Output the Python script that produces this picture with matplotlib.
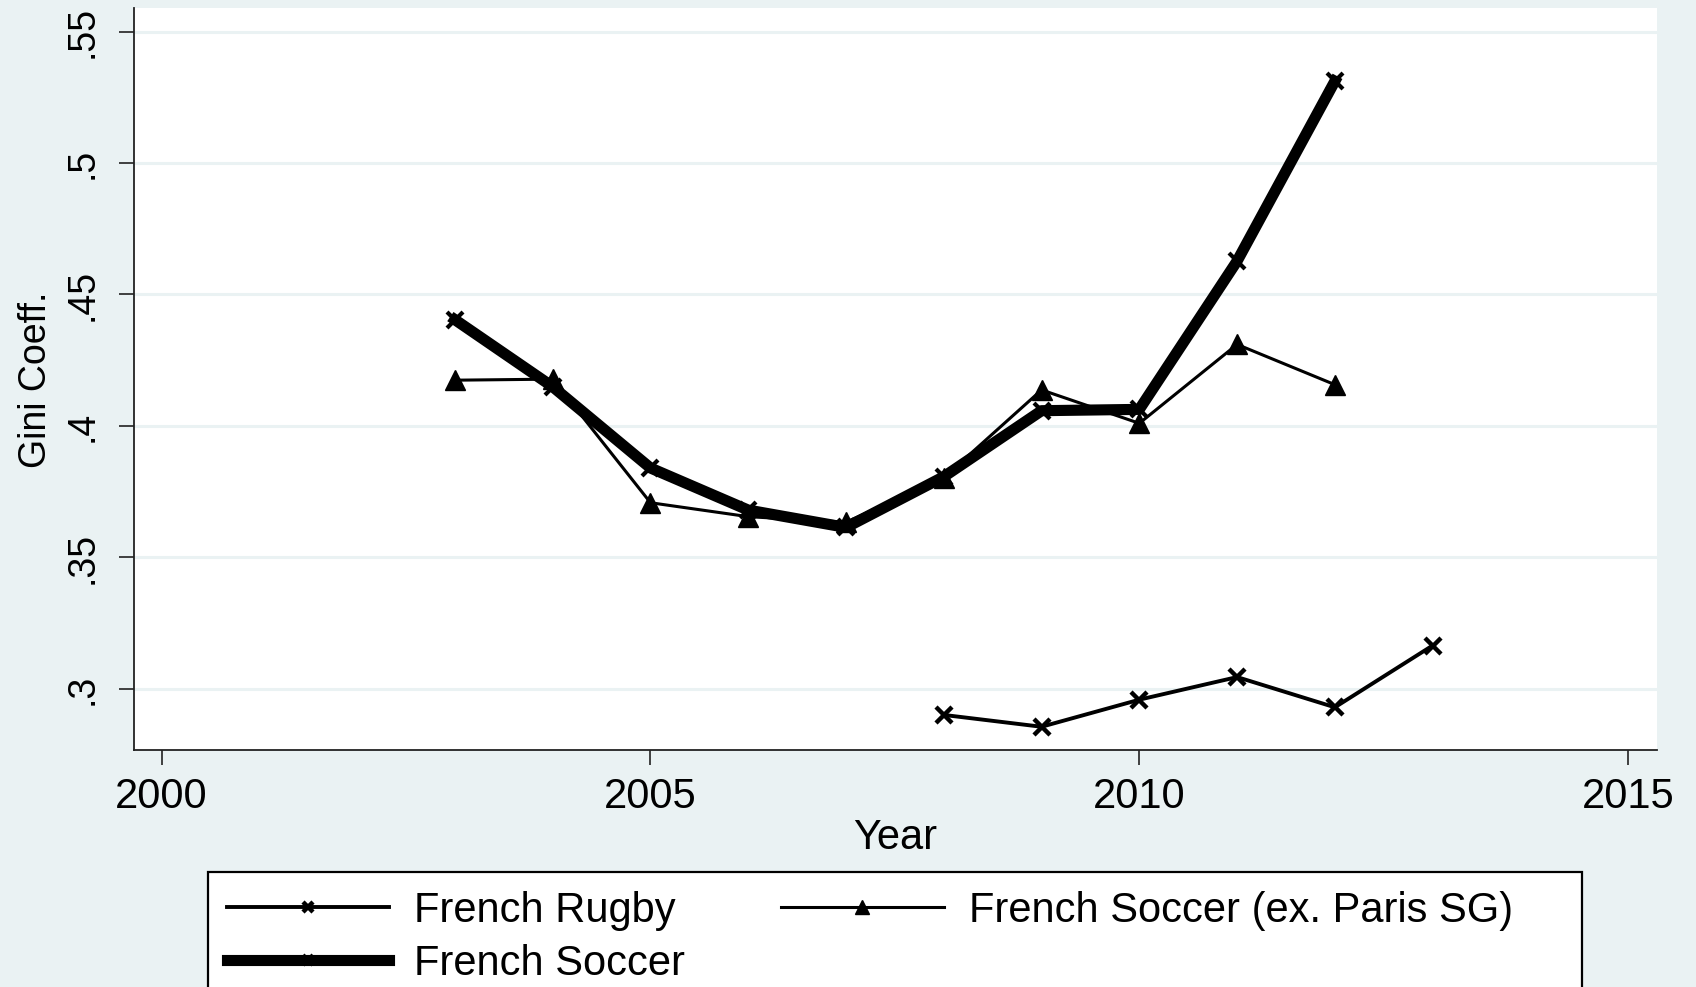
import matplotlib
matplotlib.use("Agg")
import matplotlib.pyplot as plt
from matplotlib.patches import Rectangle

# данные
years_soccer = [2003, 2004, 2005, 2006, 2007, 2008, 2009, 2010, 2011, 2012]
gini_soccer = [0.4404, 0.4149, 0.3840, 0.3680, 0.3614, 0.3807, 0.4058, 0.4063, 0.4627, 0.5311]
gini_soccer_ex_psg = [0.4174, 0.4178, 0.3708, 0.3655, 0.3634, 0.3803, 0.4137, 0.4010, 0.4310, 0.4157]

years_rugby = [2008, 2009, 2010, 2011, 2012, 2013]
gini_rugby = [0.2901, 0.2856, 0.2959, 0.3045, 0.2930, 0.3165]

x_ticks = [2000, 2005, 2010, 2015]
y_ticks = [0.30, 0.35, 0.40, 0.45, 0.50, 0.55]
y_tick_labels = [".3", ".35", ".4", ".45", ".5", ".55"]

BG = "#EAF2F3"
W, H = 1696, 987
plt.rcParams["font.family"] = ["Liberation Sans", "DejaVu Sans"]

fig = plt.figure(figsize=(W / 100, H / 100 + 0.004), dpi=100, facecolor=BG)
ax = fig.add_axes([134 / W, 237 / H, 1522.5 / W, 741.5 / H])
ax.set_facecolor("white")

# линии
l_rugby, = ax.plot(years_rugby, gini_rugby, color="black", lw=2.8,
                   marker="x", ms=11, mew=3.2, zorder=3)
l_soccer, = ax.plot(years_soccer, gini_soccer, color="black", lw=8,
                    marker="x", ms=11, mew=3, zorder=3)
l_ex, = ax.plot(years_soccer, gini_soccer_ex_psg, color="black", lw=2.2,
                marker="^", ms=15, zorder=4)

ax.set_xlim(1999.717, 2015.29)
ax.set_ylim(0.2768, 0.5589)

ax.set_xticks(x_ticks)
ax.set_yticks(y_ticks)
ax.set_yticklabels(y_tick_labels)
ax.yaxis.grid(True, color=BG, lw=2.2)
ax.set_axisbelow(True)

for s in ["top", "right"]:
    ax.spines[s].set_visible(False)
for s in ["left", "bottom"]:
    ax.spines[s].set_linewidth(1.3)
    ax.spines[s].set_color("#222222")

ax.tick_params(axis="both", direction="out", length=11, width=1.2,
               color="#222222")
ax.tick_params(axis="x", pad=8, labelsize=30)
ax.tick_params(axis="y", pad=13, labelsize=27, labelrotation=90)
plt.setp(ax.get_yticklabels(), va="center")

ax.set_xlabel("Year", fontsize=30, labelpad=1)
ax.set_ylabel("Gini Coeff.", fontsize=27, labelpad=8)

# рамка легенды (уходит за нижний край)
fig.add_artist(Rectangle((208 / W, -0.05), 1374 / W, 0.05 + 1 - 872 / H,
                         transform=fig.transFigure, facecolor="white",
                         edgecolor="black", lw=1.6, zorder=1))

leg = fig.legend([l_rugby, l_soccer, l_ex],
                 ["French Rugby", "French Soccer", "French Soccer (ex. Paris SG)"],
                 loc="upper left", bbox_to_anchor=(208 / W, 1 - 872 / H),
                 ncol=2, fontsize=30, frameon=False,
                 handlelength=3.9, handletextpad=0.6, columnspacing=2.3,
                 borderpad=0.45, labelspacing=0.3, markerscale=0.7,
                 borderaxespad=0)
leg.set_zorder(2)

fig.savefig("out.png", dpi=100, facecolor=BG)
